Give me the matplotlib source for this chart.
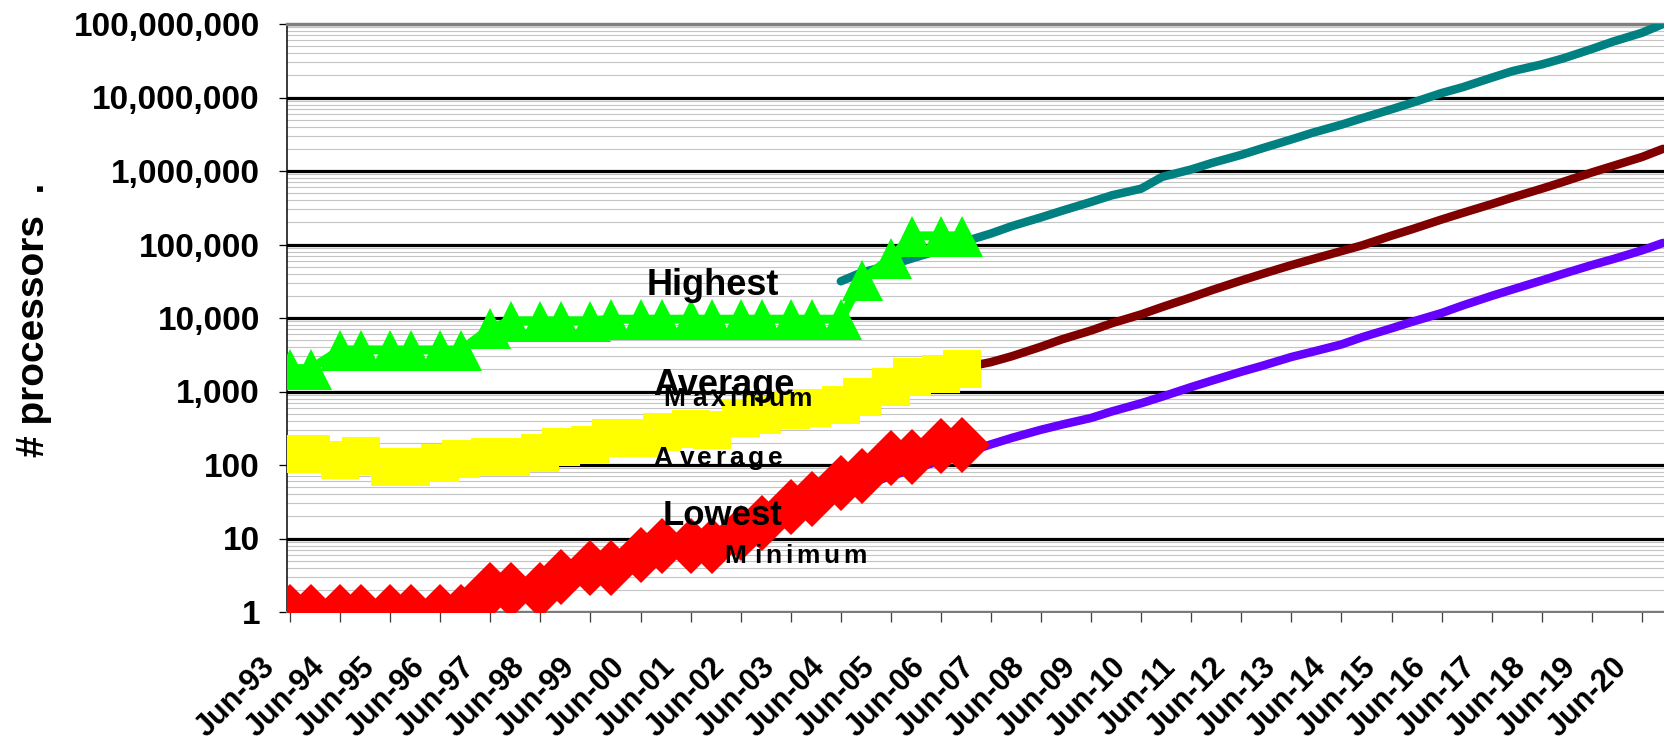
import datetime as dt
import matplotlib
matplotlib.use("Agg")
import matplotlib.pyplot as plt
from matplotlib.ticker import FixedLocator, FixedFormatter, NullFormatter, LogLocator
from matplotlib.transforms import ScaledTranslation
from matplotlib.font_manager import FontProperties

W, H, DPI = 1665, 751, 100
PX = 72.0 / DPI          # points per pixel
FONT = "Liberation Sans"
plt.rcParams["font.family"] = [FONT, "DejaVu Sans"]
plt.rcParams["font.weight"] = "bold"


# TOP500 lists appear every June and November
def editions(start, end):
    out = []
    for year in range(start[0], end[0] + 1):
        for month in (6, 11):
            if start <= (year, month) <= end:
                out.append(dt.date(year, month, 1))
    return out


# ---- observed lists, Jun-93 .. Nov-06 --------------------------------
hist_dates = editions((1993, 6), (2006, 11))

highest = [2048, 2048, 3680, 3680, 3680, 3680, 3680, 3680,
           7264, 9152, 9152, 9152, 9152, 9632, 9632, 9632,
           9632, 9632, 9632, 9632, 9632, 9632, 9632, 32768,
           65536, 131072, 131072, 131072]

average = [142, 140, 117, 132, 95, 95, 106, 120,
           130, 130, 145, 175, 188, 233, 233, 281,
           311, 300, 440, 480, 560, 600, 646, 841,
           1150, 1580, 1750, 2040]

lowest = [1, 1, 1, 1, 1, 1, 1, 1,
          2, 2, 2, 3, 4, 4, 6, 8,
          8, 8, 12, 16, 27, 34, 57, 70,
          124, 128, 180, 186]

# ---- projections -----------------------------------------------------
max_proj_dates = editions((2004, 6), (2020, 11))
max_proj = [31600, 41700, 52500, 64600, 85100, 107000, 141000, 178000,
            234000, 288000, 380000, 468000, 575000, 832000, 1050000, 1290000,
            1660000, 2040000, 2690000, 3310000, 4270000, 5250000, 6920000, 8510000,
            11500000, 13800000, 18600000, 22900000, 28200000, 33900000, 45700000,
            57500000, 75900000, 100000000]

avg_proj_dates = editions((2006, 11), (2020, 11))
avg_proj = [2090, 2510, 3020, 4070, 5130, 6760, 8510, 11200, 14100, 19100,
            24000, 32400, 39800, 52500, 63100, 81300, 97700, 132000, 162000,
            219000, 269000, 355000, 437000, 575000, 708000, 955000, 1170000,
            1550000, 2000000]

min_proj_dates = editions((1996, 11), (2020, 11))
min_proj = [1, 1.35, 1.66, 2.19, 2.69, 3.63, 4.47, 5.89, 7.24, 9.77,
            12.0, 15.8, 19.5, 26.3, 32.4, 42.7, 52.5, 70.8, 87.1, 115,
            141, 191, 234, 302, 355, 437, 537, 692, 851, 1150,
            1410, 1860, 2240, 2950, 3470, 4370, 5500, 7240, 8910, 11700,
            14800, 20000, 24500, 32400, 39800, 52500, 63100, 83200, 105000]

# ---- axis labels -----------------------------------------------------
tick_years = list(range(1993, 2021))
tick_labels = ["Jun-93", "Jun-94", "Jun-95", "Jun-96", "Jun-97", "Jun-98",
               "Jun-99", "Jun-00", "Jun-01", "Jun-02", "Jun-03", "Jun-04",
               "Jun-05", "Jun-06", "Jun-07", "Jun-08", "Jun-09", "Jun-10",
               "Jun-11", "Jun-12", "Jun-13", "Jun-14", "Jun-15", "Jun-16",
               "Jun-17", "Jun-18", "Jun-19", "Jun-20"]
y_ticks = [1, 10, 100, 1000, 10000, 100000, 1000000, 10000000, 100000000]
y_tick_labels = ["1", "10", "100", "1,000", "10,000", "100,000",
                 "1,000,000", "10,000,000", "100,000,000"]

# ---- figure ----------------------------------------------------------
fig = plt.figure(figsize=(W / DPI, H / DPI), dpi=DPI)
ax = fig.add_axes([287 / W, 1 - 612 / H, 1 - 287 / W, 588 / H])
ax.set_yscale("log")
ax.set_ylim(1, 1e8)
ax.set_xlim(dt.date(1993, 5, 10), dt.date(2020, 11, 16))
ax.set_axisbelow(True)

# trend lines
ax.plot(max_proj_dates, max_proj, color="#008080", lw=8.5 * PX,
        solid_capstyle="round", zorder=3)
ax.plot(avg_proj_dates, avg_proj, color="#800000", lw=8.5 * PX,
        solid_capstyle="round", zorder=3)
ax.plot(min_proj_dates, min_proj, color="#6600ff", lw=8.5 * PX,
        solid_capstyle="round", zorder=3)

# observed series
ax.plot(hist_dates, highest, color="#00ff00", lw=9 * PX, marker="^",
        ms=41 * PX, mew=0, zorder=4)
ax.plot(hist_dates, average, color="#ffff00", lw=9 * PX, marker="s",
        ms=38 * PX, mew=0, zorder=4)
ax.plot(hist_dates, lowest, color="#ff0000", lw=9 * PX, marker="D",
        ms=40 * PX, mew=0, zorder=4)

# y axis
ax.yaxis.set_major_locator(FixedLocator(y_ticks))
ax.yaxis.set_major_formatter(FixedFormatter(y_tick_labels))
ax.yaxis.set_minor_locator(LogLocator(base=10, subs=range(2, 10), numticks=100))
ax.yaxis.set_minor_formatter(NullFormatter())
ax.grid(axis="y", which="minor", color="#c4c4c4", lw=1.1 * PX)
ax.grid(axis="y", which="major", color="black", lw=3.2 * PX)
ax.grid(axis="x", visible=False)
ax.tick_params(axis="y", which="major", length=8 * PX, width=1.3 * PX,
               direction="out", pad=19 * PX, labelsize=24, color="black")
ax.tick_params(axis="y", which="minor", length=0)
for lab in ax.get_yticklabels():
    lab.set_fontweight("bold")

# x axis
ax.set_xticks([dt.date(y, 6, 1) for y in tick_years])
ax.set_xticklabels(tick_labels, rotation=45, ha="right", va="center",
                   rotation_mode="anchor", fontsize=22, fontweight="bold")
ax.tick_params(axis="x", length=10 * PX, width=1.3 * PX, color="#404040",
               direction="out", pad=41 * PX)
shift = ScaledTranslation(-20 / DPI, 0, fig.dpi_scale_trans)
for lab in ax.get_xticklabels():
    lab.set_transform(lab.get_transform() + shift)

# frame
ax.spines["right"].set_visible(False)
ax.spines["left"].set_color("black")
ax.spines["left"].set_linewidth(1.5 * PX)
ax.spines["bottom"].set_color("#7a7a7a")
ax.spines["bottom"].set_linewidth(2.0 * PX)
ax.spines["top"].set_color("#808080")
ax.spines["top"].set_linewidth(3.4 * PX)

# y title
fig.text(34 / W, 1 - 320 / H, "# processors  .", rotation=90,
         ha="center", va="center", fontsize=28, fontweight="bold")

# series annotations
renderer = fig.canvas.get_renderer()


def label(x, y, text, size):
    ax.annotate(text, (x, y), ha="left", va="baseline", fontsize=size,
                fontweight="bold", zorder=6)


def tracked_label(x, y, text, size, track_px, lead_px=0.0):
    """Letter-spaced label: glyphs placed one by one with extra gaps."""
    fp = FontProperties(family=FONT, weight="bold", size=size)

    def width(s):
        if not s:
            return 0.0
        return renderer.get_text_width_height_descent(s, fp, ismath=False)[0]

    for i, ch in enumerate(text):
        off = width(text[:i]) + i * track_px + (lead_px if i > 0 else 0.0)
        ax.annotate(ch, (x, y), xytext=(off * PX, 0), textcoords="offset points",
                    fontproperties=fp, ha="left", va="baseline", zorder=6)


label(dt.date(2000, 7, 18), 20800, "Highest", 26)
label(dt.date(2000, 8, 31), 904, "Average", 26)
tracked_label(dt.date(2000, 11, 12), 627, "Maximum", 19, 3.8, 4)
tracked_label(dt.date(2000, 8, 31), 100.7, "Average", 19, 3.8, 4)
label(dt.date(2000, 11, 12), 15.3, "Lowest", 25)
tracked_label(dt.date(2002, 2, 1), 4.6, "Minimum", 19, 3.8, 4)

fig.savefig("out.png", dpi=DPI)
